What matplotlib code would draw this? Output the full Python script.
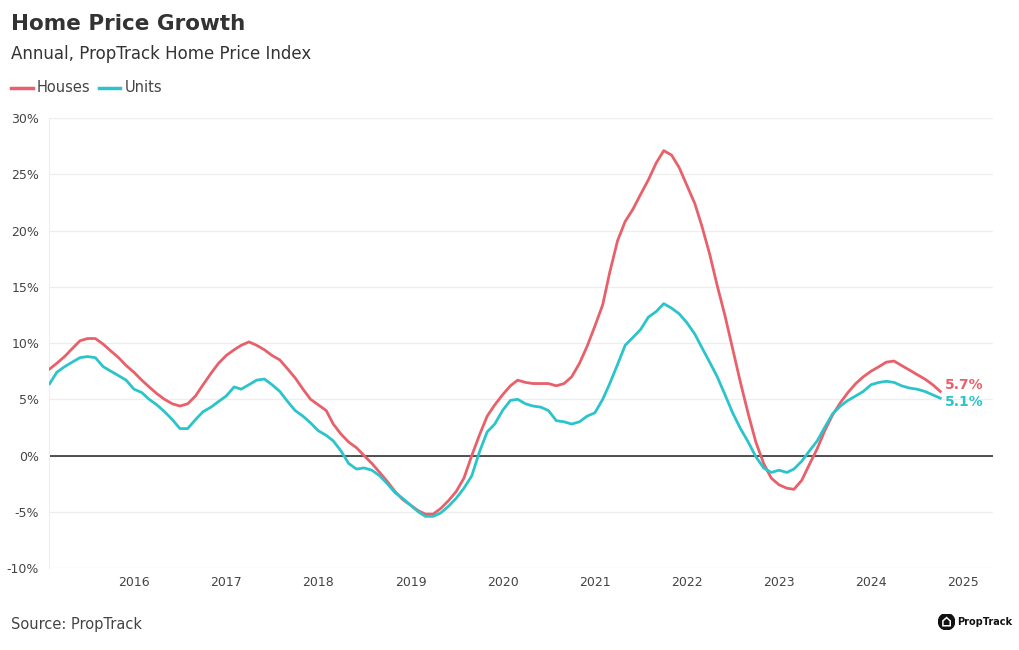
import pandas as pd
import matplotlib.pyplot as plt
import matplotlib.dates as mdates
from matplotlib.patches import Circle, Polygon

plt.rcParams['font.family'] = ['DejaVu Sans']

# monthly dates, Feb 2015 - Oct 2024
dates = pd.date_range('2015-02-01', '2024-10-01', freq='MS')

houses = [7.7, 8.2, 8.8, 9.5, 10.2, 10.4, 10.4, 9.9, 9.3, 8.7, 8.0, 7.4,
          6.7, 6.1, 5.5, 5.0, 4.6, 4.4, 4.6, 5.3, 6.3, 7.3, 8.2, 8.9,
          9.4, 9.8, 10.1, 9.8, 9.4, 8.9, 8.5, 7.7, 6.9, 5.9, 5.0, 4.5,
          4.0, 2.8, 1.9, 1.2, 0.7, 0.0, -0.7, -1.5, -2.3, -3.2, -3.9, -4.4,
          -4.9, -5.2, -5.2, -4.7, -4.0, -3.2, -2.0, 0.0, 1.8, 3.5, 4.5, 5.4,
          6.2, 6.7, 6.5, 6.4, 6.4, 6.4, 6.2, 6.4, 7.0, 8.2, 9.7, 11.5,
          13.4, 16.3, 19.1, 20.8, 21.9, 23.2, 24.5, 26.0, 27.1, 26.7, 25.6, 24.0,
          22.4, 20.4, 17.9, 15.1, 12.4, 9.5, 6.5, 3.7, 1.2, -0.7, -2.0, -2.6,
          -2.9, -3.0, -2.2, -0.8, 0.6, 2.2, 3.6, 4.7, 5.6, 6.4, 7.0, 7.5,
          7.9, 8.3, 8.4, 8.0, 7.6, 7.2, 6.8, 6.3, 5.7]

units = [6.4, 7.4, 7.9, 8.3, 8.7, 8.8, 8.7, 7.9, 7.5, 7.1, 6.7, 5.9,
         5.6, 5.0, 4.5, 3.9, 3.2, 2.4, 2.4, 3.2, 3.9, 4.3, 4.8, 5.3,
         6.1, 5.9, 6.3, 6.7, 6.8, 6.3, 5.7, 4.8, 4.0, 3.5, 2.9, 2.2,
         1.8, 1.3, 0.4, -0.7, -1.2, -1.1, -1.3, -1.8, -2.5, -3.3, -3.8, -4.4,
         -5.0, -5.4, -5.4, -5.1, -4.5, -3.8, -2.9, -1.8, 0.3, 2.1, 2.8, 4.0,
         4.9, 5.0, 4.6, 4.4, 4.3, 4.0, 3.1, 3.0, 2.8, 3.0, 3.5, 3.8,
         5.0, 6.4, 8.1, 9.8, 10.5, 11.2, 12.3, 12.8, 13.5, 13.1, 12.6, 11.8,
         10.8, 9.6, 8.3, 7.0, 5.4, 3.8, 2.4, 1.2, -0.1, -1.1, -1.5, -1.3,
         -1.5, -1.2, -0.5, 0.4, 1.3, 2.5, 3.7, 4.4, 4.9, 5.3, 5.7, 6.3,
         6.5, 6.6, 6.5, 6.2, 6.0, 5.9, 5.7, 5.4, 5.1]

yticks = [-10, -5, 0, 5, 10, 15, 20, 25, 30]
years = list(range(2016, 2026))

red = '#E8606A'
teal = '#2BC4CA'
grey_txt = '#444444'

fig = plt.figure(figsize=(10.2, 6.5), dpi=100)
ax = fig.add_axes([0.048, 0.126, 0.9255, 0.6925])

ax.plot(dates, houses, color=red, lw=2, solid_joinstyle='round', zorder=3)
ax.plot(dates, units, color=teal, lw=2, solid_joinstyle='round', zorder=3)
ax.axhline(0, color='#222222', lw=1.1, zorder=2)

ax.set_ylim(-10, 30)
ax.set_xlim(pd.Timestamp('2015-01-29'), pd.Timestamp('2025-04-28'))
ax.set_yticks(yticks)
ax.set_yticklabels([f'{t}%' for t in yticks])
ax.set_xticks([pd.Timestamp(f'{y}-01-01') for y in years])
ax.xaxis.set_major_formatter(mdates.DateFormatter('%Y'))
ax.grid(axis='y', color='#EEEEEE', lw=0.9, zorder=0)
ax.tick_params(axis='both', length=0, labelsize=9, colors=grey_txt)
ax.tick_params(axis='y', pad=7)
ax.tick_params(axis='x', pad=6)

for location in ['right', 'top', 'bottom']:
    ax.spines[location].set_visible(False)
ax.spines['left'].set_color('#EEEEEE')

# end labels, nudged apart so they don't collide
ax.text(dates[-1] + pd.Timedelta(days=18), houses[-1] + 0.6, f'{houses[-1]}%',
        color=red, fontsize=10, weight='bold', va='center')
ax.text(dates[-1] + pd.Timedelta(days=18), units[-1] - 0.3, f'{units[-1]}%',
        color=teal, fontsize=10, weight='bold', va='center')

# title, subtitle, legend
fig.text(0.011, 0.963, 'Home Price Growth', fontsize=15.5, weight='bold',
         color='#333333', va='center')
fig.text(0.011, 0.917, 'Annual, PropTrack Home Price Index', fontsize=12,
         color='#333333', va='center')
fig.lines.append(plt.Line2D([0.011, 0.032], [0.865, 0.865], color=red, lw=2.5,
                            transform=fig.transFigure))
fig.text(0.036, 0.865, 'Houses', fontsize=10.5, color=grey_txt, va='center')
fig.lines.append(plt.Line2D([0.097, 0.118], [0.865, 0.865], color=teal, lw=2.5,
                            transform=fig.transFigure))
fig.text(0.122, 0.865, 'Units', fontsize=10.5, color=grey_txt, va='center')

fig.text(0.011, 0.04, 'Source: PropTrack', fontsize=10.5, color=grey_txt, va='center')

# logo
logo = fig.add_axes([0.92, 0.031, 0.016, 0.0251])
logo.set_xlim(-1, 1)
logo.set_ylim(-1, 1)
logo.axis('off')
logo.add_patch(Circle((0, 0), 1, color='#111111'))
logo.add_patch(Polygon([[-0.45, -0.5], [-0.45, 0.1], [0, 0.5], [0.45, 0.1], [0.45, -0.5]],
                       closed=True, fill=False, ec='white', lw=1.1))
fig.text(0.938, 0.043, 'PropTrack', fontsize=7, weight='bold', color='#111111', va='center')

fig.savefig('out.png', dpi=100)
